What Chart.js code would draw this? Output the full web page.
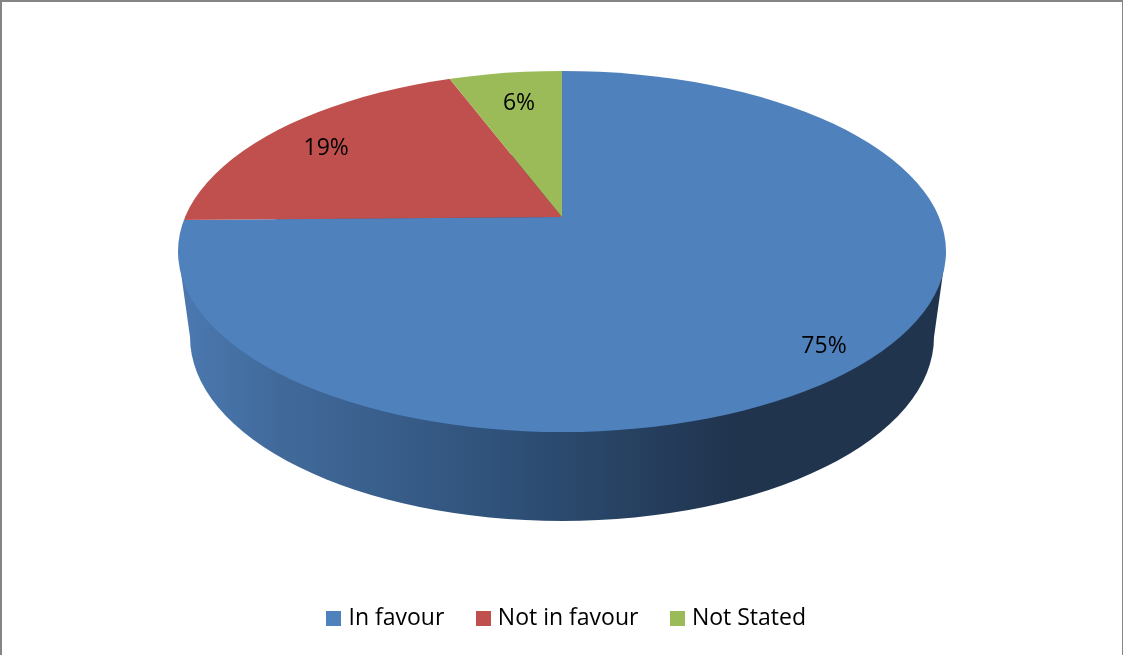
<!DOCTYPE html>
<html>
<head>
<meta charset="utf-8">
<style>
html,body{margin:0;padding:0;background:#fff;overflow:hidden}
#wrap{position:relative;width:1123px;height:655px}
#frame{position:absolute;left:0;top:0;right:0;bottom:0;border-left:2px solid #858585;border-top:2px solid #858585;border-right:1px solid #858585;pointer-events:none}
canvas{display:block}
</style>
<script src="https://cdn.jsdelivr.net/npm/chart.js@4/dist/chart.umd.min.js"></script>
</head>
<body>
<div id="wrap"><canvas id="c" width="1123" height="655"></canvas><div id="frame"></div></div>
<script>
const categories = ["In favour", "Not in favour", "Not Stated"];
const shares = [75, 19, 6];
const shareLabels = ["75%", "19%", "6%"];
const sliceColors = ["#4f81bd", "#c0504d", "#9bbb59"];
const labelReachX = [0.772, 0.594, 0.478];
const labelReachY = [0.77, 0.53, 0.50];

const FONT = '"Open Sans", "Noto Sans", sans-serif';
const top3d = {cx: 562, cy: 251.5, rx: 384, ry: 180.5};
const base3d = {cx: 562, cy: 337, rx: 372, ry: 184};
const apex = {x: 562, y: 217};
const sliceReach = 480, squash = 0.49, skew = -0.008;

function ellipsePath(ctx, e) { ctx.beginPath(); ctx.ellipse(e.cx, e.cy, e.rx, e.ry, 0, 0, Math.PI * 2); }

function legendSwatch(color) {
  const s = document.createElement('canvas');
  s.width = 15; s.height = 15;
  const g = s.getContext('2d');
  g.fillStyle = color; g.fillRect(0, 0, 15, 15);
  return s;
}

const pie3d = {
  id: 'pie3d',
  beforeDatasetsDraw(chart) {
    const ctx = chart.ctx, arc = chart.getDatasetMeta(0).data[0];
    // side wall
    const grad = ctx.createLinearGradient(base3d.cx - base3d.rx, 0, base3d.cx + base3d.rx, 0);
    grad.addColorStop(0, '#4a77ae');
    grad.addColorStop(0.12, '#416a9b');
    grad.addColorStop(0.42, '#2f5179');
    grad.addColorStop(0.73, '#20344e');
    grad.addColorStop(1, '#20344e');
    ctx.save();
    ctx.fillStyle = grad;
    ellipsePath(ctx, base3d); ctx.fill();
    ctx.beginPath();
    ctx.moveTo(top3d.cx - top3d.rx, top3d.cy);
    ctx.lineTo(top3d.cx + top3d.rx, top3d.cy);
    ctx.lineTo(base3d.cx + base3d.rx, base3d.cy);
    ctx.lineTo(base3d.cx - base3d.rx, base3d.cy);
    ctx.closePath(); ctx.fill();
    ctx.restore();
    // top face: library arcs, mapped onto the perspective ellipse
    const k = sliceReach / arc.outerRadius;
    ctx.save();
    ellipsePath(ctx, top3d); ctx.clip();
    ctx.translate(apex.x, apex.y);
    ctx.transform(1, skew, 0, 1, 0, 0);
    ctx.scale(k, k * squash);
    ctx.translate(-arc.x, -arc.y);
  },
  afterDatasetsDraw(chart) {
    const ctx = chart.ctx;
    ctx.restore();
    const meta = chart.getDatasetMeta(0);
    ctx.save();
    ctx.font = '23px ' + FONT;
    ctx.fillStyle = '#000';
    ctx.textAlign = 'center';
    ctx.textBaseline = 'middle';
    meta.data.forEach((a, i) => {
      const mid = (a.startAngle + a.endAngle) / 2;
      const x = apex.x + Math.cos(mid) * sliceReach * labelReachX[i];
      const y = apex.y + Math.sin(mid) * sliceReach * squash * labelReachY[i];
      ctx.fillText(shareLabels[i], x, y + 1.5);
    });
    ctx.restore();
  }
};

new Chart(document.getElementById('c'), {
  type: 'pie',
  data: {
    labels: categories,
    datasets: [{data: shares, backgroundColor: sliceColors, borderWidth: 0, clip: false}]
  },
  plugins: [pie3d],
  options: {
    responsive: false,
    animation: false,
    layout: {padding: {left: 14, right: 0, top: 0, bottom: 15}},
    plugins: {
      tooltip: {enabled: false},
      legend: {
        position: 'bottom',
        labels: {
          usePointStyle: true,
          pointStyleWidth: 6,
          boxHeight: 15,
          padding: 36,
          color: '#000',
          font: {family: FONT, size: 23},
          generateLabels(chart) {
            return categories.map((t, i) => ({
              text: t, pointStyle: legendSwatch(sliceColors[i]),
              fillStyle: sliceColors[i], strokeStyle: sliceColors[i], lineWidth: 0, index: i
            }));
          }
        }
      }
    }
  }
});
</script>
</body>
</html>
